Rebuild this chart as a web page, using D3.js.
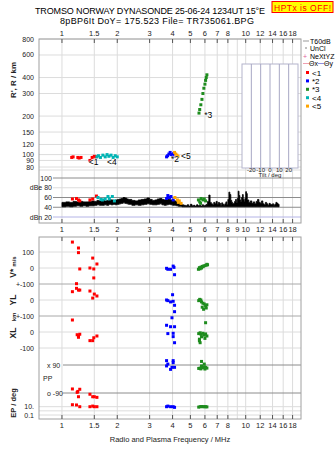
<!DOCTYPE html>
<html><head><meta charset="utf-8">
<script src="https://cdn.jsdelivr.net/npm/d3@7"></script>
<style>body{margin:0;background:#fff}svg{display:block}text{font-family:"Liberation Sans",Arial,sans-serif}</style>
</head><body>
<script>
// ---------- data ----------
const freqTicksTop = [1,1.5,2,3,4,5,6,7,8,10,12,14,16,18];
const freqTicksMid = [1,1.5,2,3,4,5,6,7,8,9,10,12,14,16,18];
const freqTicksBot = [1,1.5,2,3,4,5,6,7,8,10,12,14,16,18];
const rangeTicks = [80,90,100,120,150,200,300,400,600,800];
const dbTicks = [20,40,60,80,100];
const dbTickLabels = ["dBn 20","40","60","dBe 80","100"];
const tiltTicks = [-20,-10,0,10,20];

const seriesNames = ["<1","*2","*3","<4","<5"];
const seriesColors = ["#ff0000","#0000ff","#1e8c1e","#00b4b4","#ffa500"];

// echo range (freq MHz, km)
const rangeS1 = [[1.13,95],[1.15,96],[1.22,95],[1.24,94],[1.27,95],[1.42,90],[1.46,95],[1.50,97],[1.53,96]];
const rangeS2 = [[3.71,96],[3.76,98],[3.82,101],[3.88,104],[3.95,100],[4.02,97],[4.06,102]];
const rangeS3 = [[5.57,211],[5.62,225],[5.70,245],[5.78,270],[5.85,300],[5.92,330],[6.00,355],[6.05,380],[6.10,400],[6.15,420]];
const rangeS4 = [[1.55,96],[1.58,98],[1.62,95],[1.67,99],[1.72,96],[1.76,100],[1.80,97],[1.85,99],[1.90,95],[1.95,98],[2.00,96]];
const rangeS5 = [[4.10,104],[4.16,101],[4.22,99],[4.28,97]];
const echoLabels = [["<1",1.40,88],["<4",1.76,88],["*2",3.92,93],["<5",4.45,97],["*3",5.95,205]];

// amplitude dB
const dbS1 = [[1.14,57],[1.20,58],[1.23,55],[1.25,53],[1.42,55],[1.47,57],[1.54,63]];
const dbS2 = [[3.71,58],[3.77,64],[3.85,60],[3.92,62],[4.03,55]];
const dbS3 = [[5.53,55],[5.62,51],[5.72,58],[5.85,55],[5.95,57],[5.68,48],[6.05,53]];
const dbS4 = [[1.57,60],[1.63,56],[1.66,55],[1.72,57],[1.78,62],[1.81,57],[1.88,62],[1.93,53]];
const dbS5 = [[4.12,60],[4.25,55],[4.35,53],[4.45,48],[4.30,50]];

// noise T60dB trace: freq, low dB, high dB
const noiseTrace = [
[1.00,41,50],[1.05,42,51],[1.10,41,50],[1.15,42,52],[1.20,43,51],[1.25,42,52],[1.30,43,51],[1.35,42,51],[1.40,43,52],[1.45,43,53],
[1.50,44,52],[1.55,45,54],[1.60,44,53],[1.65,44,56],[1.70,45,53],[1.75,44,54],[1.80,46,56],[1.85,45,55],[1.90,46,53],[1.95,45,55],
[2.00,46,56],[2.05,47,57],[2.10,48,58],[2.15,49,60],[2.20,48,59],[2.25,47,57],[2.30,46,56],[2.40,44,54],[2.50,45,53],[2.60,44,55],
[2.70,45,56],[2.80,46,57],[2.90,47,59],[3.00,46,56],[3.10,45,54],[3.20,45,55],[3.30,46,57],[3.40,47,58],[3.50,45,56],[3.60,44,55],
[3.70,45,57],[3.80,46,56],[3.90,45,55],[4.00,44,54],[4.10,44,53],[4.20,43,51],[4.30,42,49],[4.40,42,47],[4.50,41,45],[4.60,41,44],
[4.70,41,43],[4.80,41,45],[4.90,41,42],[5.00,41,46],[5.10,41,43],[5.20,41,44],[5.30,41,42],[5.40,41,45],[5.50,41,43],[5.60,41,44],
[5.70,41,42],[5.80,41,45],[5.90,41,43],[6.00,41,44],[6.10,41,46],[6.20,41,52],[6.30,41,65],[6.40,41,50],[6.50,41,47],[6.60,41,45],
[6.70,41,50],[6.80,41,47],[6.90,41,52],[7.00,41,46],[7.10,41,50],[7.20,41,48],[7.30,41,44],[7.40,41,49],[7.50,41,46],[7.60,41,44],
[7.70,41,47],[7.80,41,51],[7.90,41,45],[8.00,41,56],[8.10,41,71],[8.20,41,66],[8.30,41,54],[8.40,41,50],[8.50,41,47],[8.60,41,48],
[8.70,41,52],[8.80,41,56],[8.90,41,50],[9.00,41,58],[9.10,41,73],[9.20,41,64],[9.30,41,55],[9.40,41,52],[9.50,41,60],[9.60,41,66],
[9.70,41,56],[9.80,41,52],[9.90,41,58],[10.0,41,72],[10.1,41,68],[10.2,41,55],[10.4,41,50],[10.6,41,53],[10.8,41,48],[11.0,41,51],
[11.2,41,47],[11.4,41,52],[11.6,41,56],[11.8,41,50],[12.0,41,48],[12.2,41,53],[12.4,41,47],[12.6,41,45],[12.8,41,50],[13.0,41,47],
[13.2,41,44],[13.4,41,48],[13.6,41,46],[13.8,41,45],[14.0,41,47],[14.2,41,44],[14.4,41,46],[14.6,41,50],[14.8,41,48],[15.0,41,46],[15.2,41,45]];

// velocities / locations (m/s, km) and angles
const vstarS1 = [[1.14,162],[1.23,125],[1.23,96],[1.47,62],[1.55,25],[1.25,-6],[1.42,0],[1.49,-6],[1.49,-62]];
const vstarS2 = [[3.71,-2],[3.77,-8],[3.90,-8],[4.03,12],[4.07,4],[4.10,-42]];
const vstarS3 = [[5.53,-8],[5.60,2],[5.70,5],[5.80,10],[5.90,12],[6.00,15],[6.10,18],[6.20,20],[5.65,-5],[5.75,0],[5.85,8],[6.15,23]];
const ylS1 = [[1.20,102],[1.20,73],[1.14,52],[1.23,62],[1.25,62],[1.42,56],[1.50,37],[1.55,25],[1.47,12]];
const ylS2 = [[4.00,33],[3.71,0],[3.77,-4],[3.90,-12],[4.03,-8],[4.10,-33],[4.10,-73]];
const ylS3 = [[5.55,-4],[5.62,4],[5.70,0],[5.75,-12],[5.85,-20],[5.95,-25],[6.05,-38],[6.10,-50],[5.90,-58],[5.80,-45],[6.15,-30]];
const xlS1 = [[1.14,75],[1.21,-17],[1.23,-33],[1.25,-14],[1.23,-25],[1.42,-54],[1.47,-54],[1.49,-36],[1.55,-25]];
const xlS2 = [[3.97,89],[3.71,42],[3.90,33],[4.10,33],[3.77,-10],[4.03,-8],[4.03,-29],[4.10,-67]];
const xlS3 = [[6.05,58],[5.55,-10],[5.65,-5],[5.72,-15],[5.85,-8],[5.95,-20],[6.05,-12],[6.15,-25],[5.60,-45],[5.60,-55],[6.00,-40],[5.75,-30],[5.65,-67]];
const ppS1 = [[1.14,-64],[1.21,-86],[1.25,-66],[1.23,-114],[1.22,-80],[1.42,-98],[1.47,-114],[1.50,-114],[1.55,-118]];
const ppS2 = [[3.71,118],[3.77,96],[3.71,84],[4.03,118],[4.03,105],[3.97,75],[3.90,62],[4.10,75]];
const ppS3 = [[5.75,113],[5.75,84],[5.95,96],[5.55,68],[5.65,70],[5.75,75],[5.85,72],[5.95,78],[6.05,75],[6.15,70],[5.70,65],[6.00,64]];
const epS1 = [[1.14,30],[1.20,26],[1.25,10],[1.42,10],[1.47,14],[1.50,10],[1.55,10]];
const epS2 = [[3.71,10],[3.77,14],[3.90,10],[4.03,10],[4.10,7]];
const epS3 = [[5.55,8],[5.65,10],[5.75,11],[5.85,10],[5.95,10],[6.05,10],[6.15,9]];

// ---------- drawing ----------
const W = 335, H = 451;
const svg = d3.select("body").append("svg").attr("width", W).attr("height", H);
svg.append("rect").attr("width", W).attr("height", H).attr("fill", "#fff");

const L = 39, R = 301;
const topY0 = 39, topY1 = 223, botY0 = 237, botY1 = 419;
const x = d3.scaleLog().domain([0.75, 20]).range([L, R]);
const yR = d3.scaleLog().domain([80, 800]).range([167, 39]);
const yDb = d3.scaleLinear().domain([20, 100]).range([217, 178]);
const yV = d3.scaleLinear().domain([-100, 100]).range([284, 252]);
const yYL = d3.scaleLinear().domain([-100, 100]).range([316, 284]);
const yXL = d3.scaleLinear().domain([-100, 100]).range([348, 316]);
const yPP = d3.scaleLinear().domain([-90, 90]).range([393, 365]);
const yEP = d3.scaleLog().domain([0.1, 10]).range([415, 406.7]);
const xTilt = d3.scaleLinear().domain([-30, 30]).range([242, 298]);

const gridC = "#dcdcdc", darkC = "#8c8c8c", frameC = "#a0a0a0";

// Title
svg.append("text").attr("x", 35).attr("y", 14.3).attr("font-size", 9).attr("textLength", 230)
  .attr("lengthAdjust", "spacing").text("TROMSO NORWAY   DYNASONDE 25-06-24 1234UT 15°E");
svg.append("text").attr("x", 60).attr("y", 23.6).attr("font-size", 9).attr("textLength", 194)
  .attr("lengthAdjust", "spacing").text("8pBP6It DoY= 175.523 File= TR735061.BPG");
svg.append("rect").attr("x", 272).attr("y", 1.5).attr("width", 61).attr("height", 11)
  .attr("fill", "#ffff00").attr("stroke", "#ff0000").attr("stroke-width", 1);
svg.append("text").attr("x", 274).attr("y", 10.5).attr("font-size", 8.5).attr("fill", "#ff0000")
  .attr("textLength", 57).attr("lengthAdjust", "spacing").text("HPTx is OFF!");

// vertical grid
function vgrid(y0, y1) {
  svg.append("g").selectAll("line").data(freqTicksMid).join("line")
    .attr("x1", d => x(d)).attr("x2", d => x(d)).attr("y1", y0).attr("y2", y1)
    .attr("stroke", gridC).attr("stroke-width", 1);
}
vgrid(topY0, topY1);
vgrid(botY0, botY1);

// horizontal grid - range panel
svg.append("g").selectAll("line").data(rangeTicks).join("line")
  .attr("x1", L).attr("x2", R).attr("y1", d => yR(d)).attr("y2", d => yR(d))
  .attr("stroke", gridC);
svg.append("line").attr("x1", L).attr("x2", R).attr("y1", 170).attr("y2", 170).attr("stroke", gridC);
// dB panel lines
const dbLineColors = ["#b4b4e6", darkC, darkC, gridC, darkC];
svg.append("g").selectAll("line").data(dbTicks).join("line")
  .attr("x1", 53).attr("x2", R).attr("y1", d => yDb(d)).attr("y2", d => yDb(d))
  .attr("stroke", (d, i) => dbLineColors[i]);

// lower panel lines
const lowerLines = [
  [yV(100), gridC], [yV(0), gridC], [yV(-100), "#a8a8a8"],
  [yYL(0), gridC], [yYL(-100), "#a8a8a8"], [yXL(0), gridC], [yXL(-100), gridC],
  [yPP(90), darkC], [yPP(-90), darkC], [yEP(10), gridC], [yEP(1), gridC], [yEP(0.1), gridC]
];
svg.append("g").selectAll("line").data(lowerLines).join("line")
  .attr("x1", (d, i) => (i === 7 || i === 8) ? 63 : L).attr("x2", R)
  .attr("y1", d => d[0]).attr("y2", d => d[0]).attr("stroke", d => d[1]);

// frames
svg.append("rect").attr("x", L).attr("y", topY0).attr("width", R - L).attr("height", topY1 - topY0)
  .attr("fill", "none").attr("stroke", frameC);
svg.append("rect").attr("x", L).attr("y", botY0).attr("width", R - L).attr("height", botY1 - botY0)
  .attr("fill", "none").attr("stroke", frameC);

// x ticks marks
function tickMarks(vals, y0, y1) {
  svg.append("g").selectAll("line").data(vals).join("line")
    .attr("x1", d => x(d)).attr("x2", d => x(d)).attr("y1", y0).attr("y2", y1)
    .attr("stroke", "#555");
}
tickMarks(freqTicksTop, topY0, topY0 + 4);
tickMarks(freqTicksMid, topY1 - 4, topY1);
tickMarks(freqTicksBot, botY0, botY0 + 4);
tickMarks(freqTicksBot, botY1 - 4, botY1);

function tickLabels(vals, y) {
  svg.append("g").selectAll("text").data(vals).join("text")
    .attr("x", d => x(d)).attr("y", y).attr("text-anchor", "middle")
    .attr("font-size", 7.5).attr("fill", "#222").text(d => d);
}
tickLabels(freqTicksTop, 35.5);
tickLabels(freqTicksMid, 232);
tickLabels(freqTicksBot, 428);
svg.append("text").attr("x", 170).attr("y", 441.5).attr("text-anchor", "middle")
  .attr("font-size", 7.5).attr("fill", "#222").text("Radio and Plasma Frequency / MHz");

// range labels
svg.append("g").selectAll("text").data(rangeTicks).join("text")
  .attr("x", 34).attr("y", d => yR(d) + 2.5).attr("text-anchor", "end")
  .attr("font-size", 7).attr("fill", "#222").text(d => d);
svg.append("text").attr("transform", "translate(16,80) rotate(-90)").attr("text-anchor", "middle")
  .attr("font-size", 8).attr("font-weight", "bold").attr("fill", "#222").text("R', R / km");

// dB labels
svg.append("g").selectAll("text").data(dbTicks).join("text")
  .attr("x", 52).attr("y", d => yDb(d) + 2.5).attr("text-anchor", "end")
  .attr("font-size", 7).attr("fill", "#222").text((d, i) => dbTickLabels[i]);

// lower left labels
const lowerLabels = [
  ["100", yV(100)], ["0", yV(0)], ["+-100", yV(-100)], ["0", yYL(0)], ["+-100", yYL(-100)],
  ["0", yXL(0)], ["-100", yXL(-100)], ["10.", yEP(10)], ["0.1", yEP(0.1)]
];
svg.append("g").selectAll("text").data(lowerLabels).join("text")
  .attr("x", 34).attr("y", d => d[1] + 2.5).attr("text-anchor", "end")
  .attr("font-size", 7).attr("fill", "#222").text(d => d[0]);
svg.append("text").attr("x", 47).attr("y", yPP(90) + 2.5).attr("font-size", 7).attr("fill", "#222").text("x  90");
svg.append("text").attr("x", 47).attr("y", yPP(-90) + 2.5).attr("font-size", 7).attr("fill", "#222").text("o -90");
svg.append("text").attr("x", 43).attr("y", 381).attr("font-size", 7).attr("fill", "#222").text("PP");

function rotLabel(txt, cx, cy, size) {
  svg.append("text").attr("transform", `translate(${cx},${cy}) rotate(-90)`).attr("text-anchor", "middle")
    .attr("font-size", size).attr("font-weight", "bold").attr("fill", "#222").text(txt);
}
const vl = svg.append("text").attr("transform", "translate(16,267) rotate(-90)").attr("text-anchor", "middle")
  .attr("fill", "#222").attr("font-weight", "bold");
vl.append("tspan").attr("font-size", 8.5).text("V*");
vl.append("tspan").attr("font-size", 6).attr("dx", 2).text("m/s");
rotLabel("YL", 16, 300, 8.5);
rotLabel("km", 16, 317, 6);
rotLabel("XL", 16, 333, 8.5);
rotLabel("EP / deg", 16, 403, 7.5);

// tilt box
svg.append("rect").attr("x", xTilt(-30)).attr("y", 64).attr("width", xTilt(30) - xTilt(-30)).attr("height", 104)
  .attr("fill", "#fff").attr("stroke", "#b4b4cc");
svg.append("g").selectAll("line").data(tiltTicks).join("line")
  .attr("x1", d => xTilt(d)).attr("x2", d => xTilt(d)).attr("y1", 64).attr("y2", 168)
  .attr("stroke", "#a8a8c4");
svg.append("g").selectAll("text").data(tiltTicks).join("text")
  .attr("x", d => xTilt(d)).attr("y", 171.5).attr("text-anchor", "middle")
  .attr("font-size", 6).attr("fill", "#222").text(d => d);
svg.append("text").attr("x", 270).attr("y", 177).attr("text-anchor", "middle")
  .attr("font-size", 6).attr("fill", "#222").text("Tilt / deg");

// noise trace
const noiseArea = d3.area().curve(d3.curveStepAfter)
  .x(d => x(d[0])).y0(d => yDb(d[1])).y1(d => yDb(d[2]));
svg.append("path").datum(noiseTrace).attr("d", noiseArea).attr("fill", "#000")
  .attr("stroke", "#000").attr("stroke-width", 0.8);

// points
function pts(data, yScale, color) {
  svg.append("g").selectAll("rect").data(data).join("rect")
    .attr("x", d => x(d[0]) - 1.5).attr("y", d => yScale(d[1]) - 1.5)
    .attr("width", 3).attr("height", 3).attr("fill", color);
}
const C = seriesColors;
[[rangeS1,0],[rangeS4,3],[rangeS2,1],[rangeS5,4],[rangeS3,2]].forEach(([d,i]) => pts(d, yR, C[i]));
[[dbS1,0],[dbS4,3],[dbS2,1],[dbS5,4],[dbS3,2]].forEach(([d,i]) => pts(d, yDb, C[i]));
[[vstarS1,0],[vstarS2,1],[vstarS3,2]].forEach(([d,i]) => pts(d, yV, C[i]));
[[ylS1,0],[ylS2,1],[ylS3,2]].forEach(([d,i]) => pts(d, yYL, C[i]));
[[xlS1,0],[xlS2,1],[xlS3,2]].forEach(([d,i]) => pts(d, yXL, C[i]));
[[ppS1,0],[ppS2,1],[ppS3,2]].forEach(([d,i]) => pts(d, yPP, C[i]));
[[epS1,0],[epS2,1],[epS3,2]].forEach(([d,i]) => pts(d, yEP, C[i]));

// echo labels
svg.append("g").selectAll("text").data(echoLabels).join("text")
  .attr("x", d => x(d[1])).attr("y", d => yR(d[2]) + 3).attr("font-size", 8.5)
  .attr("fill", "#000").attr("stroke", "#fff").attr("stroke-width", 0.6).attr("paint-order", "stroke")
  .text(d => d[0]);

// legend
const lg = svg.append("g");
lg.append("line").attr("x1", 303).attr("x2", 309).attr("y1", 41).attr("y2", 41).attr("stroke", "#999");
lg.append("text").attr("x", 310).attr("y", 43.5).attr("font-size", 7).text("T60dB");
lg.append("rect").attr("x", 305.5).attr("y", 47.5).attr("width", 1).attr("height", 1).attr("fill", "#000");
lg.append("text").attr("x", 310).attr("y", 51).attr("font-size", 7).text("UnCl");
lg.append("text").attr("x", 303).attr("y", 58.5).attr("font-size", 7).attr("fill", "#e0609a").text("+");
lg.append("text").attr("x", 310).attr("y", 58.5).attr("font-size", 7).text("NeXtYZ");
lg.append("line").attr("x1", 303).attr("x2", 309).attr("y1", 63.5).attr("y2", 63.5).attr("stroke", "#f0a0b0");
lg.append("text").attr("x", 309).attr("y", 66).attr("font-size", 7).text("Θx");
lg.append("line").attr("x1", 318).attr("x2", 324).attr("y1", 63.5).attr("y2", 63.5).attr("stroke", "#9090e0");
lg.append("text").attr("x", 324).attr("y", 66).attr("font-size", 7).text("Θy");
lg.selectAll("rect.s").data(seriesNames).join("rect").attr("class", "s")
  .attr("x", 306).attr("y", (d, i) => 71 + i * 8.4).attr("width", 3).attr("height", 3)
  .attr("fill", (d, i) => seriesColors[i]);
lg.selectAll("text.s").data(seriesNames).join("text").attr("class", "s")
  .attr("x", 312).attr("y", (d, i) => 75.5 + i * 8.4).attr("font-size", 8).text(d => d);
</script>
</body></html>
